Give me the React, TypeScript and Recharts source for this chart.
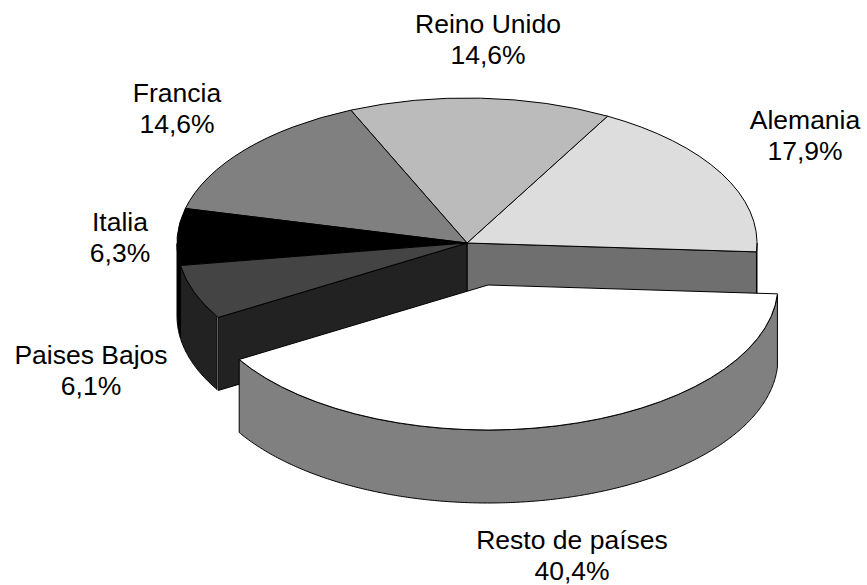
import { PieChart, Pie } from 'recharts';

const countries = ['Alemania', 'Reino Unido', 'Francia', 'Italia', 'Paises Bajos', 'Resto de países'];
const shares = [17.9, 14.6, 14.6, 6.3, 6.1, 40.4];
const topColors = ['#DDDDDD', '#BBBBBB', '#808080', '#000000', '#444444', '#FFFFFF'];
const wallColors = ['#6F6F6F', '#5D5D5D', '#404040', '#000000', '#222222', '#808080'];

// pie is drawn as a squashed disc with a fake depth, like the old 3D office charts
const CX = 467;
const CY = 243;
const RX = 290;
const RY = 145;
const DEPTH = 73;
const EXPLODE_X = 21;
const EXPLODE_Y = 42;
const EXPLODED = 'Resto de países';

const labelPositions: Record<string, [number, number]> = {
  Alemania: [805, 129],
  'Reino Unido': [488, 33],
  Francia: [177, 102],
  Italia: [120, 231],
  'Paises Bajos': [91, 364],
  'Resto de países': [572, 549],
};

const tableData = countries.map((name, i) => ({
  name,
  value: shares[i],
  fill: topColors[i],
  wall: wallColors[i],
}));

const rad = (a: number) => (a * Math.PI) / 180;

function SliceShape(props: any) {
  const { startAngle, endAngle, payload, fill } = props;
  const name = payload.name ?? props.name;
  const wall = payload.wall ?? props.wall;
  const isOut = name === EXPLODED;
  const cx = CX + (isOut ? EXPLODE_X : 0);
  const cy = CY + (isOut ? EXPLODE_Y : 0);

  const pt = (a: number) => [cx + RX * Math.cos(rad(a)), cy - RY * Math.sin(rad(a))];
  const [sx, sy] = pt(startAngle);
  const [ex, ey] = pt(endAngle);
  const large = endAngle - startAngle > 180 ? 1 : 0;
  const top = `M${cx},${cy} L${sx},${sy} A${RX},${RY} 0 ${large} 0 ${ex},${ey} Z`;

  // outer rim: only the part of the arc that faces the viewer
  const rim: number[][] = [];
  for (let a = startAngle; a <= endAngle + 0.001; a += 0.5) {
    if (Math.sin(rad(a)) <= 0) rim.push(pt(a));
  }
  const rimPath =
    rim.length > 1
      ? 'M' +
        rim.map((p) => `${p[0]},${p[1]}`).join(' L') +
        ' L' +
        [...rim].reverse().map((p) => `${p[0]},${p[1] + DEPTH}`).join(' L') +
        ' Z'
      : null;

  // walls of the cut left open by the pulled out slice
  const cutAngle = name === countries[0] ? startAngle : name === countries[4] ? endAngle : null;
  let cut = null;
  if (cutAngle !== null) {
    const [px, py] = pt(cutAngle);
    cut = `M${cx},${cy} L${px},${py} L${px},${py + DEPTH} L${cx},${cy + DEPTH} Z`;
  }

  return (
    <g>
      {rimPath && <path d={rimPath} fill={wall} stroke="#000" strokeWidth={1} strokeLinejoin="round" />}
      {cut && <path d={cut} fill={wall} stroke="#000" strokeWidth={1} strokeLinejoin="round" />}
      <path d={top} fill={fill} stroke="#000" strokeWidth={1} strokeLinejoin="round" />
    </g>
  );
}

function SliceLabel(props: any) {
  const name = props.name ?? props.payload?.name;
  const pos = labelPositions[name];
  if (!pos) return null;
  return (
    <text x={pos[0]} y={pos[1]} textAnchor="middle" fontFamily="'Liberation Sans', Arial, sans-serif" fontSize={26.5} fill="#000">
      <tspan x={pos[0]}>{name}</tspan>
      <tspan x={pos[0]} dy={31}>
        {props.value.toFixed(1).replace('.', ',')}%
      </tspan>
    </text>
  );
}

export default function App() {
  return (
    <div style={{ position: 'absolute', left: 0, top: 0, width: 867, height: 585, background: '#fff' }}>
      <PieChart width={867} height={585} margin={{ top: 0, right: 0, bottom: 0, left: 0 }}>
        <Pie
          data={tableData}
          dataKey="value"
          nameKey="name"
          cx={CX}
          cy={CY}
          innerRadius={0}
          outerRadius={RX}
          startAngle={-3.5}
          endAngle={356.5}
          paddingAngle={0}
          stroke="none"
          shape={SliceShape}
          label={SliceLabel}
          labelLine={false}
          isAnimationActive={false}
        />
      </PieChart>
    </div>
  );
}
